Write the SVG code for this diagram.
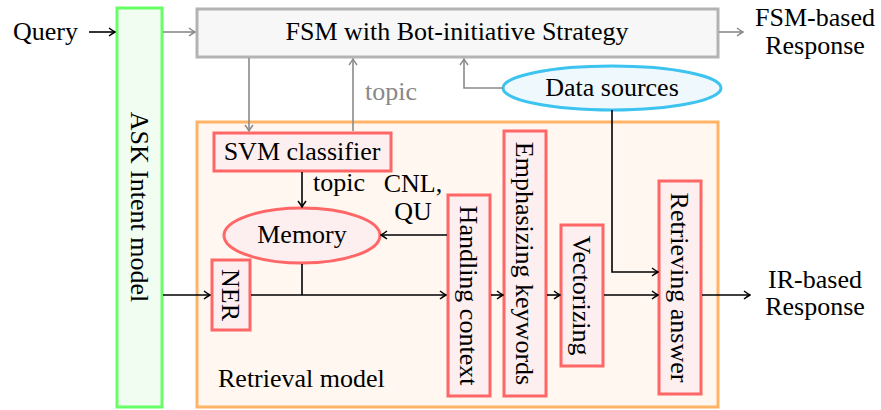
<svg xmlns="http://www.w3.org/2000/svg" width="881" height="410" viewBox="0 0 881 410">
<style>
.g{fill:#888}
.c{stroke:#000;stroke-width:1.6;fill:none}
.cg{stroke:#8a8a8a;stroke-width:1.6;fill:none}
.red{fill:#fdeef0;stroke:#ff6666;stroke-width:3}
</style>
<defs>
<marker id="ab" viewBox="-7 -5 8 10" refX="0" refY="0" markerWidth="8" markerHeight="10" markerUnits="userSpaceOnUse" orient="auto">
<path d="M-6,-4 Q-2,-1 0,0 Q-2,1 -6,4" fill="none" stroke="#000" stroke-width="1.5"/>
</marker>
<marker id="ag" viewBox="-7 -5 8 10" refX="0" refY="0" markerWidth="8" markerHeight="10" markerUnits="userSpaceOnUse" orient="auto">
<path d="M-6,-4 Q-2,-1 0,0 Q-2,1 -6,4" fill="none" stroke="#8a8a8a" stroke-width="1.5"/>
</marker>
</defs>

<g id="retrieval-model">
<rect x="197" y="122" width="521" height="285" fill="#fff7f0" stroke="#ffb366" stroke-width="3"/>
<text x="218" y="387" font-family="Liberation Serif" font-size="26">Retrieval model</text>
</g>

<g id="ask">
<rect x="117" y="8" width="45" height="399" fill="#f2fdf2" stroke="#66ff66" stroke-width="3"/>
<text text-anchor="middle" transform="translate(140,207) rotate(90)" dy="9" font-family="Liberation Serif" font-size="26">ASK Intent model</text>
</g>

<g id="fsm">
<rect x="197" y="9" width="521" height="48" fill="#f7f7f7" stroke="#b3b3b3" stroke-width="3"/>
<text text-anchor="middle" x="457" y="40" font-family="Liberation Serif" font-size="26">FSM with Bot-initiative Strategy</text>
</g>

<g id="data-sources">
<ellipse cx="612" cy="88" rx="109" ry="22" fill="#eef8fd" stroke="#3cc3f0" stroke-width="3"/>
<text text-anchor="middle" x="612" y="96" font-family="Liberation Serif" font-size="26">Data sources</text>
</g>

<g id="svm">
<rect class="red" x="214" y="133" width="177" height="38"/>
<text text-anchor="middle" x="302" y="160" font-family="Liberation Serif" font-size="26">SVM classifier</text>
</g>

<g id="memory">
<ellipse cx="302" cy="235.5" rx="78" ry="27.5" fill="#fdeef0" stroke="#ff6666" stroke-width="3"/>
<text text-anchor="middle" x="302" y="243" font-family="Liberation Serif" font-size="26">Memory</text>
</g>

<g id="ner">
<rect class="red" x="212" y="260" width="38" height="70"/>
<text text-anchor="middle" transform="translate(231,295) rotate(90)" dy="9" font-family="Liberation Serif" font-size="26">NER</text>
</g>

<g id="handling">
<rect class="red" x="448" y="195" width="42" height="201"/>
<text text-anchor="middle" transform="translate(469,295.5) rotate(90)" dy="9" font-family="Liberation Serif" font-size="26">Handling context</text>
</g>

<g id="emphasizing">
<rect class="red" x="504" y="131" width="42" height="265"/>
<text text-anchor="middle" transform="translate(525,263.5) rotate(90)" dy="9" font-family="Liberation Serif" font-size="26">Emphasizing keywords</text>
</g>

<g id="vectorizing">
<rect class="red" x="561" y="225" width="42" height="141"/>
<text text-anchor="middle" transform="translate(582,295.5) rotate(90)" dy="9" font-family="Liberation Serif" font-size="26">Vectorizing</text>
</g>

<g id="retrieving">
<rect class="red" x="659" y="181" width="42" height="213"/>
<text text-anchor="middle" transform="translate(680,287.5) rotate(90)" dy="9" font-family="Liberation Serif" font-size="26">Retrieving answer</text>
</g>

<g id="labels">
<text x="13" y="40" font-family="Liberation Serif" font-size="26">Query</text>
<text text-anchor="middle" x="815" y="26" font-family="Liberation Serif" font-size="26">FSM-based</text>
<text text-anchor="middle" x="815" y="54" font-family="Liberation Serif" font-size="26">Response</text>
<text text-anchor="middle" x="815" y="288" font-family="Liberation Serif" font-size="26">IR-based</text>
<text text-anchor="middle" x="815" y="315" font-family="Liberation Serif" font-size="26">Response</text>
<text class="g" x="365" y="100" font-family="Liberation Serif" font-size="26">topic</text>
<text x="313" y="191" font-family="Liberation Serif" font-size="26">topic</text>
<text text-anchor="middle" x="413" y="192" font-family="Liberation Serif" font-size="26">CNL,</text>
<text text-anchor="middle" x="413" y="220" font-family="Liberation Serif" font-size="26">QU</text>
</g>

<g id="connectors">
<line class="c" x1="89" y1="32" x2="115" y2="32" marker-end="url(#ab)"/>
<line class="cg" x1="163" y1="32" x2="195" y2="32" marker-end="url(#ag)"/>
<line class="cg" x1="719" y1="32" x2="743" y2="32" marker-end="url(#ag)"/>
<line class="cg" x1="249" y1="58" x2="249" y2="131" marker-end="url(#ag)"/>
<line class="cg" x1="353" y1="131" x2="353" y2="59" marker-end="url(#ag)"/>
<path class="cg" d="M503,88 H464 V59" marker-end="url(#ag)"/>
<line class="c" x1="302" y1="172" x2="302" y2="207" marker-end="url(#ab)"/>
<line class="c" x1="447" y1="235" x2="381" y2="235" marker-end="url(#ab)"/>
<line class="c" x1="163" y1="295" x2="210" y2="295" marker-end="url(#ab)"/>
<line class="c" x1="251" y1="295" x2="446" y2="295" marker-end="url(#ab)"/>
<line class="c" x1="302" y1="264" x2="302" y2="295"/>
<line class="c" x1="491" y1="295" x2="503" y2="295" marker-end="url(#ab)"/>
<line class="c" x1="547" y1="295" x2="560" y2="295" marker-end="url(#ab)"/>
<line class="c" x1="604" y1="295" x2="658" y2="295" marker-end="url(#ab)"/>
<line class="c" x1="702" y1="295" x2="750" y2="295" marker-end="url(#ab)"/>
<path class="c" d="M612,110 V272 H658" marker-end="url(#ab)"/>
</g>
</svg>
